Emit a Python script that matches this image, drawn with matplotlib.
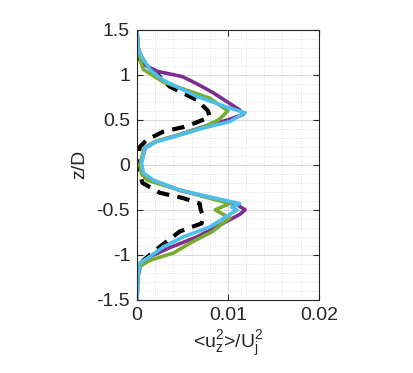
import matplotlib.pyplot as plt
from matplotlib.ticker import MultipleLocator, FixedLocator

plt.rcParams['font.family'] = ['Liberation Sans', 'DejaVu Sans']
plt.rcParams['mathtext.default'] = 'regular'
plt.rcParams['axes.unicode_minus'] = False

# perfiles: z/D y <u_z^2>/U_j^2
z_cyan = [1.5, 1.28, 1.17, 1.05, 0.94, 0.76, 0.64, 0.58, 0.48, 0.41, 0.33, 0.26, 0.19, 0.02,
          -0.09, -0.17, -0.28, -0.35, -0.43, -0.47, -0.5, -0.69, -0.8, -0.91, -1.02, -1.09, -1.24, -1.5]
v_cyan = [0, 0.0001, 0.0007, 0.0015, 0.0029, 0.0066, 0.0099, 0.0119, 0.0102, 0.0073, 0.0047, 0.0022, 0.0009, 0.0005,
          0.0007, 0.0018, 0.0047, 0.0077, 0.0113, 0.0104, 0.0110, 0.0080, 0.0051, 0.0029, 0.0014, 0.0003, 0.0001, 0]

z_purple = [1.5, 1.3, 1.2, 1.1, 1.04, 0.98, 0.9, 0.8, 0.61, 0.56, 0.5, 0.42, 0.33, 0.26, 0.19, 0.0,
            -0.1, -0.17, -0.28, -0.35, -0.43, -0.5, -0.55, -0.61, -0.7, -0.8, -0.92, -1.02, -1.1, -1.25, -1.5]
v_purple = [0, 0.0001, 0.0005, 0.0010, 0.0022, 0.0050, 0.0066, 0.0084, 0.0113, 0.0117, 0.0100, 0.0072, 0.0045, 0.0021, 0.0009, 0.0004,
            0.0006, 0.0017, 0.0046, 0.0075, 0.0108, 0.0119, 0.0113, 0.0102, 0.0085, 0.0066, 0.0036, 0.0014, 0.0004, 0.0001, 0]

z_green = [1.5, 1.35, 1.25, 1.15, 1.06, 0.92, 0.74, 0.6, 0.5, 0.42, 0.33, 0.26, 0.19, 0.0,
           -0.1, -0.17, -0.28, -0.43, -0.5, -0.59, -0.74, -0.86, -0.98, -1.06, -1.13, -1.25, -1.5]
v_green = [0, 0.0001, 0.0002, 0.0004, 0.0007, 0.0029, 0.0080, 0.0100, 0.0090, 0.0073, 0.0045, 0.0020, 0.0008, 0.0003,
           0.0005, 0.0011, 0.0047, 0.0102, 0.0086, 0.0102, 0.0083, 0.0060, 0.0040, 0.0014, 0.0003, 0.0001, 0]

z_black = [1.22, 1.14, 1.09, 0.98, 0.87, 0.72, 0.6, 0.53, 0.47, 0.42, 0.37, 0.28, 0.2, 0.0,
           -0.1, -0.2, -0.31, -0.37, -0.43, -0.5, -0.57, -0.65, -0.74, -0.91, -1.06, -1.17, -1.25]
v_black = [0.0001, 0.0005, 0.0014, 0.0025, 0.0036, 0.0066, 0.0078, 0.0080, 0.0065, 0.0051, 0.0029, 0.0011, 0.0003, 0.0,
           0.0003, 0.0006, 0.0025, 0.0051, 0.0069, 0.0070, 0.0073, 0.0071, 0.0047, 0.0025, 0.0007, 0.0001, 0.0]

x_ticks = [0, 0.01, 0.02]
x_labels = ['0', '0.01', '0.02']
y_ticks = [-1.5, -1, -0.5, 0, 0.5, 1, 1.5]
y_labels = ['-1.5', '-1', '-0.5', '0', '0.5', '1', '1.5']

fig = plt.figure(figsize=(4.14, 3.73), dpi=100)
ax = fig.add_axes([0.331, 0.196, 0.439, 0.724])

ax.plot(v_black, z_black, color='black', lw=3, dashes=(3, 2))
ax.plot(v_purple, z_purple, color='#7E2F8E', lw=2.6)
ax.plot(v_green, z_green, color='#77AC30', lw=2.6)
ax.plot(v_cyan, z_cyan, color='#4DBEEE', lw=2.6)

ax.set_xlim(0, 0.02)
ax.set_ylim(-1.5, 1.5)
ax.xaxis.set_major_locator(FixedLocator(x_ticks))
ax.set_xticklabels(x_labels)
ax.yaxis.set_major_locator(FixedLocator(y_ticks))
ax.set_yticklabels(y_labels)
ax.xaxis.set_minor_locator(MultipleLocator(0.002))
ax.yaxis.set_minor_locator(MultipleLocator(0.1))

ax.grid(which='major', color='#d4d4d4', lw=0.6)
ax.grid(which='minor', color='#d8d8d8', lw=0.6, linestyle=':')
ax.set_axisbelow(True)

ax.tick_params(which='both', direction='in', top=True, right=True, labelsize=14, colors='#262626')
ax.tick_params(which='minor', length=0)
ax.tick_params(which='major', length=4, width=0.8, pad=5)
for s in ax.spines.values():
    s.set_color('#262626')
    s.set_linewidth(0.8)

ax.set_ylabel('z/D', fontsize=14, color='#262626', labelpad=6)
ax.set_xlabel('<u$_z^2$>/U$_j^2$', fontsize=14, color='#262626', labelpad=4)

plt.savefig('out.png', dpi=100)
